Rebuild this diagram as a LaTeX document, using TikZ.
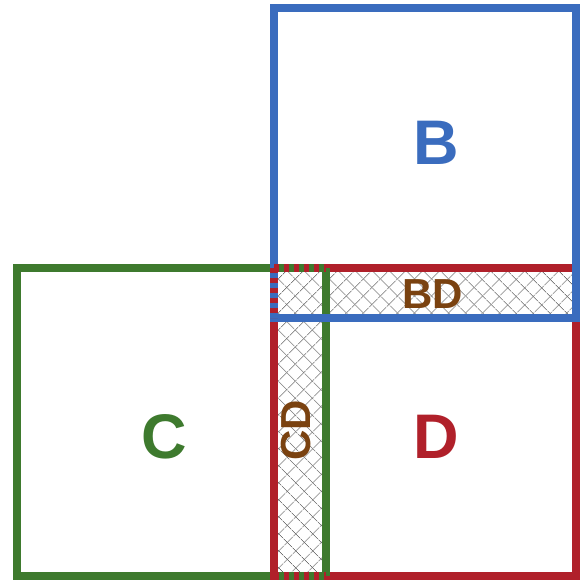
\documentclass[tikz,border=0pt]{standalone}
\usepackage{fontspec}
\setmainfont{Liberation Sans}
\usetikzlibrary{patterns.meta}
\definecolor{cblue}{RGB}{58,108,190}
\definecolor{cgreen}{RGB}{62,122,46}
\definecolor{cred}{RGB}{176,32,42}
\definecolor{cbrown}{RGB}{122,66,16}
\definecolor{chatch}{RGB}{105,105,105}
\tikzset{
  sq/.style={line width=8.5pt},
  big/.style={font=\fontsize{63}{63}\selectfont\bfseries, inner sep=0pt},
  small/.style={font=\fontsize{42}{42}\selectfont\bfseries, inner sep=0pt, text=cbrown},
  mix/.style={line width=8.5pt, dash pattern=on 5pt off 5pt}
}
\begin{document}
\begin{tikzpicture}[x=1pt,y=-1pt]
\useasboundingbox (0,0) rectangle (580,581);
% hatched overlap regions
\path[pattern={Lines[angle=45,distance=13pt,line width=0.8pt]}, pattern color=chatch]
  (274,268) -- (576,268) -- (576,318) -- (326,318) -- (326,576) -- (274,576) -- cycle;
\path[pattern={Lines[angle=-45,distance=13pt,line width=0.8pt]}, pattern color=chatch]
  (274,268) -- (576,268) -- (576,318) -- (326,318) -- (326,576) -- (274,576) -- cycle;
% squares
\draw[sq, cgreen] (17,268) rectangle (326,576);
\draw[sq, cred] (274,268) rectangle (576,576);
\draw[sq, cgreen] (326,268) -- (326,576);
\draw[sq, cblue] (274,8) rectangle (576,318);
% mixed shared edges
\coordinate (m1) at (274,268);
\coordinate (m2) at (326,268);
\coordinate (m3) at (274,318);
\coordinate (m4) at (274,576);
\coordinate (m5) at (326,576);
\draw[sq, cgreen] (m1) -- (m2);
\draw[sq, cgreen] (m4) -- (m5);
\draw[mix, cred] (m1) -- (m2);
\draw[mix, cred] (m1) -- (m3);
\draw[mix, cred] (m4) -- (m5);
% labels
\node[big, text=cblue] (B) at (436,143) {B};
\node[big, text=cgreen] (C) at (164,437) {C};
\node[big, text=cred] (D) at (436,437) {D};
\node[small] (BD) at (433,294) {BD};
\node[small, rotate=90] (CD) at (296,430) {CD};
\end{tikzpicture}
\end{document}
